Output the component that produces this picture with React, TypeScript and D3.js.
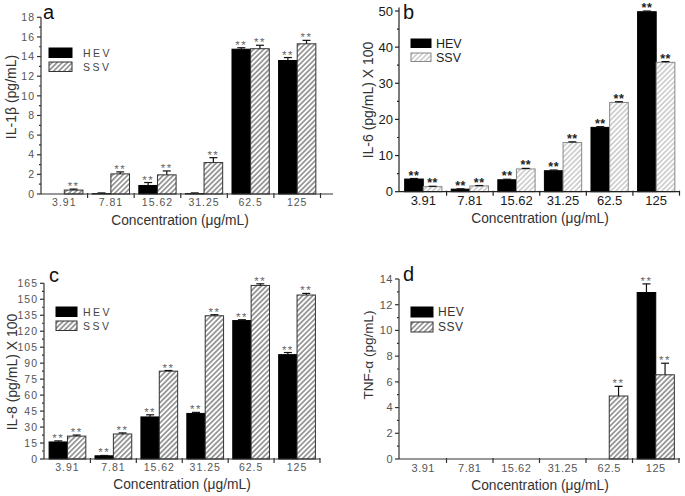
import React from 'react';
import * as d3 from 'd3';

const categories = ["3.91", "7.81", "15.62", "31.25", "62.5", "125"];
const seriesNames = ["HEV", "SSV"];

// Panel a: IL-1β (pg/mL)
const il1bHEV = [0, 0.03, 0.87, 0.03, 14.75, 13.6];
const il1bHEVErr = [0, 0.08, 0.3, 0.08, 0.15, 0.3];
const il1bHEVSig = [0, 0, 1, 0, 1, 1];
const il1bSSV = [0.4, 2.05, 1.95, 3.2, 14.8, 15.3];
const il1bSSVErr = [0.1, 0.2, 0.4, 0.5, 0.35, 0.35];
const il1bSSVSig = [1, 1, 1, 1, 1, 1];

// Panel b: IL-6 (pg/mL) x 100
const il6HEV = [3.5, 0.7, 3.3, 5.8, 17.8, 49.8];
const il6HEVErr = [0.15, 0.1, 0.15, 0.2, 0.2, 0.2];
const il6HEVSig = [1, 1, 1, 1, 1, 1];
const il6SSV = [1.4, 1.6, 6.3, 13.6, 24.7, 35.8];
const il6SSVErr = [0.1, 0.1, 0.15, 0.2, 0.2, 0.2];
const il6SSVSig = [1, 1, 1, 1, 1, 1];

// Panel c: IL-8 (pg/mL) x 100
const il8HEV = [16, 3, 39.5, 42.8, 130, 98];
const il8HEVErr = [1, 0.3, 2, 1, 0.8, 2];
const il8HEVSig = [1, 1, 1, 1, 1, 1];
const il8SSV = [21.5, 23.5, 82.5, 134.5, 163, 154];
const il8SSVErr = [1, 1, 0.6, 1, 1.5, 1.5];
const il8SSVSig = [1, 1, 1, 1, 1, 1];

// Panel d: TNF-α (pg/mL)
const tnfHEV = [0, 0, 0, 0, 0, 12.95];
const tnfHEVErr = [0, 0, 0, 0, 0, 0.67];
const tnfHEVSig = [0, 0, 0, 0, 0, 1];
const tnfSSV = [0, 0, 0, 0, 4.9, 6.55];
const tnfSSVErr = [0, 0, 0, 0, 0.75, 0.9];
const tnfSSVSig = [0, 0, 0, 0, 1, 1];

const FONT = "'Liberation Sans', Arial, Helvetica, sans-serif";

type Theme = {
  tickFont: number; tickColor: string; tickSpacing: number;
  legendFont: number; legendSpacing: number; legendColor: string;
  starFont: number; starColor: string; starSpacing: number; starWeight: string;
  hatch: string; outline: string; axis: string;
};

const grayTheme: Theme = {
  tickFont: 10.5, tickColor: '#555', tickSpacing: 1,
  legendFont: 10.5, legendSpacing: 2.5, legendColor: '#444',
  starFont: 11.5, starColor: '#666', starSpacing: 1.5, starWeight: 'normal',
  hatch: 'hatchGray', outline: '#333', axis: '#333',
};
const darkTheme: Theme = {
  tickFont: 13, tickColor: '#1a1a1a', tickSpacing: 0,
  legendFont: 12.5, legendSpacing: 0, legendColor: '#222',
  starFont: 12.5, starColor: '#222', starSpacing: 0.5, starWeight: 'bold',
  hatch: 'hatchLight', outline: '#888', axis: '#222',
};
const midTheme: Theme = {
  tickFont: 11, tickColor: '#555', tickSpacing: 0.5,
  legendFont: 12, legendSpacing: 0.5, legendColor: '#333',
  starFont: 11.5, starColor: '#666', starSpacing: 1.5, starWeight: 'normal',
  hatch: 'hatchGray', outline: '#333', axis: '#333',
};

type Cfg = {
  letter: string; letterX: number; letterY: number;
  yLabel: string; yLabelX: number; yLabelY: number; yLabelFont: number;
  xTitleX: number; xTitleY: number;
  axisX: number; bandStart: number; bandEnd: number; axisEnd: number;
  yZero: number; yTop: number; yMax: number; axisTopVal: number;
  tickStep: number; minorStep: number;
  hev: number[]; hevErr: number[]; hevSig: number[];
  ssv: number[]; ssvErr: number[]; ssvSig: number[];
  legendX: number; legendY: number; legendW: number; legendH: number; legendGap: number; legendTextX: number;
  xTickY: number;
  theme: Theme;
};

function Panel({ c }: { c: Cfg }) {
  const t = c.theme;
  const y = d3.scaleLinear().domain([0, c.yMax]).range([c.yZero, c.yTop]);
  const x = d3.scaleBand<string>().domain(categories).range([c.bandStart, c.bandEnd]).paddingInner(0.2).paddingOuter(0.1);
  const sub = d3.scaleBand<string>().domain(seriesNames).range([0, x.bandwidth()]);
  const step = x.step();
  const majors = d3.range(0, c.yMax + 1e-9, c.tickStep);
  const minors = d3.range(c.minorStep, c.yMax + 1e-9, c.minorStep).filter(v => Math.abs(v / c.tickStep - Math.round(v / c.tickStep)) > 1e-6);
  const seps = d3.range(1, categories.length + 1).map(i => c.bandStart + i * step);

  const series = [
    { name: 'HEV', vals: c.hev, errs: c.hevErr, sig: c.hevSig },
    { name: 'SSV', vals: c.ssv, errs: c.ssvErr, sig: c.ssvSig },
  ];

  return (
    <g>
      {series.map(s => categories.map((cat, i) => {
        const v = s.vals[i];
        const bx = (x(cat) as number) + (sub(s.name) as number);
        const bw = sub.bandwidth();
        const cx = bx + bw / 2;
        const top = v + s.errs[i];
        return (
          <g key={s.name + cat}>
            {v > 0 && (
              <rect x={bx} y={y(v)} width={bw} height={c.yZero - y(v)}
                fill={s.name === 'HEV' ? '#000' : `url(#${t.hatch})`}
                stroke={s.name === 'HEV' ? '#000' : t.outline} strokeWidth={1} />
            )}
            {s.errs[i] > 0 && (
              <g stroke="#111" strokeWidth={1.2}>
                <line x1={cx} x2={cx} y1={y(v)} y2={y(top)} />
                <line x1={cx - 4} x2={cx + 4} y1={y(top)} y2={y(top)} />
              </g>
            )}
            {s.sig[i] === 1 && (
              <text x={cx} y={y(top) + 1} textAnchor="middle" fontSize={t.starFont} fill={t.starColor}
                fontWeight={t.starWeight} letterSpacing={t.starSpacing} fontFamily={FONT}>**</text>
            )}
          </g>
        );
      }))}

      <g stroke={t.axis} strokeWidth={1.2} fill="none">
        <line x1={c.axisX} x2={c.axisX} y1={c.yZero} y2={y(c.axisTopVal)} />
        <line x1={c.axisX} x2={c.axisEnd} y1={c.yZero} y2={c.yZero} />
        {majors.map(v => <line key={'M' + v} x1={c.axisX - 4} x2={c.axisX} y1={y(v)} y2={y(v)} />)}
        {minors.map(v => <line key={'m' + v} x1={c.axisX - 2} x2={c.axisX} y1={y(v)} y2={y(v)} />)}
        {seps.map((sx, i) => <line key={'s' + i} x1={sx} x2={sx} y1={c.yZero - 1} y2={c.yZero + 4} />)}
      </g>
      {majors.map(v => (
        <text key={'L' + v} x={c.axisX - 6} y={y(v)} dy="0.35em" textAnchor="end" fontSize={t.tickFont}
          fill={t.tickColor} letterSpacing={t.tickSpacing} fontFamily={FONT}>{d3.format('d')(v)}</text>
      ))}
      {categories.map(cat => (
        <text key={'X' + cat} x={(x(cat) as number) + x.bandwidth() / 2} y={c.xTickY} textAnchor="middle"
          fontSize={t.tickFont} fill={t.tickColor} letterSpacing={t.tickSpacing} fontFamily={FONT}>{cat}</text>
      ))}

      <text x={c.xTitleX} y={c.xTitleY} textAnchor="middle" fontSize={13.8} fill="#333" fontFamily={FONT}>Concentration (μg/mL)</text>
      <text transform={`translate(${c.yLabelX},${c.yLabelY}) rotate(-90)`} textAnchor="middle" fontSize={c.yLabelFont}
        fill="#333" fontFamily={FONT} dy="0.35em">{c.yLabel}</text>
      <text x={c.letterX} y={c.letterY} fontSize={20} fill="#111" fontFamily={FONT}>{c.letter}</text>

      {seriesNames.map((n, i) => (
        <g key={'lg' + n}>
          <rect x={c.legendX} y={c.legendY + i * c.legendGap} width={c.legendW} height={c.legendH}
            fill={n === 'HEV' ? '#000' : `url(#${t.hatch})`} stroke={n === 'HEV' ? '#000' : t.outline} strokeWidth={1} />
          <text x={c.legendTextX} y={c.legendY + i * c.legendGap + c.legendH / 2} dy="0.36em" fontSize={t.legendFont}
            fill={t.legendColor} letterSpacing={t.legendSpacing} fontFamily={FONT}>{n}</text>
        </g>
      ))}
    </g>
  );
}

const panels: Cfg[] = [
  {
    letter: 'a', letterX: 43, letterY: 19, yLabel: 'IL-1β (pg/mL)', yLabelX: 11, yLabelY: 97, yLabelFont: 14,
    xTitleX: 180, xTitleY: 225, axisX: 41, bandStart: 41, bandEnd: 320.5, axisEnd: 333,
    yZero: 194, yTop: 17.3, yMax: 18, axisTopVal: 18, tickStep: 2, minorStep: 1,
    hev: il1bHEV, hevErr: il1bHEVErr, hevSig: il1bHEVSig, ssv: il1bSSV, ssvErr: il1bSSVErr, ssvSig: il1bSSVSig,
    legendX: 49, legendY: 48, legendW: 23, legendH: 9.5, legendGap: 14, legendTextX: 83, xTickY: 206, theme: grayTheme,
  },
  {
    letter: 'b', letterX: 403, letterY: 19, yLabel: 'IL-6 (pg/mL) X 100', yLabelX: 368, yLabelY: 100, yLabelFont: 14,
    xTitleX: 540, xTitleY: 223, axisX: 399, bandStart: 400, bandEnd: 679.5, axisEnd: 680,
    yZero: 191.7, yTop: 11, yMax: 50, axisTopVal: 51, tickStep: 10, minorStep: 5,
    hev: il6HEV, hevErr: il6HEVErr, hevSig: il6HEVSig, ssv: il6SSV, ssvErr: il6SSVErr, ssvSig: il6SSVSig,
    legendX: 411, legendY: 39, legendW: 20, legendH: 8.5, legendGap: 14, legendTextX: 436, xTickY: 205, theme: darkTheme,
  },
  {
    letter: 'c', letterX: 49, letterY: 282, yLabel: 'IL-8 (pg/mL) X 100', yLabelX: 12, yLabelY: 372, yLabelFont: 14,
    xTitleX: 182, xTitleY: 489, axisX: 44, bandStart: 44.5, bandEnd: 320, axisEnd: 320,
    yZero: 459, yTop: 283.3, yMax: 165, axisTopVal: 165, tickStep: 15, minorStep: 7.5,
    hev: il8HEV, hevErr: il8HEVErr, hevSig: il8HEVSig, ssv: il8SSV, ssvErr: il8SSVErr, ssvSig: il8SSVSig,
    legendX: 56, legendY: 307, legendW: 21, legendH: 9.5, legendGap: 14, legendTextX: 83, xTickY: 471, theme: grayTheme,
  },
  {
    letter: 'd', letterX: 403, letterY: 281, yLabel: 'TNF-α (pg/mL)', yLabelX: 368, yLabelY: 355, yLabelFont: 13.5,
    xTitleX: 540, xTitleY: 490, axisX: 399, bandStart: 400, bandEnd: 679, axisEnd: 680,
    yZero: 459, yTop: 279, yMax: 14, axisTopVal: 14, tickStep: 2, minorStep: 1,
    hev: tnfHEV, hevErr: tnfHEVErr, hevSig: tnfHEVSig, ssv: tnfSSV, ssvErr: tnfSSVErr, ssvSig: tnfSSVSig,
    legendX: 411, legendY: 307, legendW: 22, legendH: 10, legendGap: 15, legendTextX: 438, xTickY: 472, theme: midTheme,
  },
];

export default function App() {
  return (
    <svg width={685} height={496} style={{ position: 'absolute', left: 0, top: 0, background: '#fff' }}>
      <defs>
        <pattern id="hatchGray" patternUnits="userSpaceOnUse" width={3.6} height={3.6} patternTransform="rotate(45)">
          <rect width={3.6} height={3.6} fill="#fff" />
          <line x1={1.8} x2={1.8} y1={0} y2={3.6} stroke="#555" strokeWidth={1.1} />
        </pattern>
        <pattern id="hatchLight" patternUnits="userSpaceOnUse" width={3.6} height={3.6} patternTransform="rotate(45)">
          <rect width={3.6} height={3.6} fill="#fff" />
          <line x1={1.8} x2={1.8} y1={0} y2={3.6} stroke="#aaa" strokeWidth={1} />
        </pattern>
      </defs>
      <rect width={685} height={496} fill="#fff" />
      {panels.map(p => <Panel key={p.letter} c={p} />)}
    </svg>
  );
}
